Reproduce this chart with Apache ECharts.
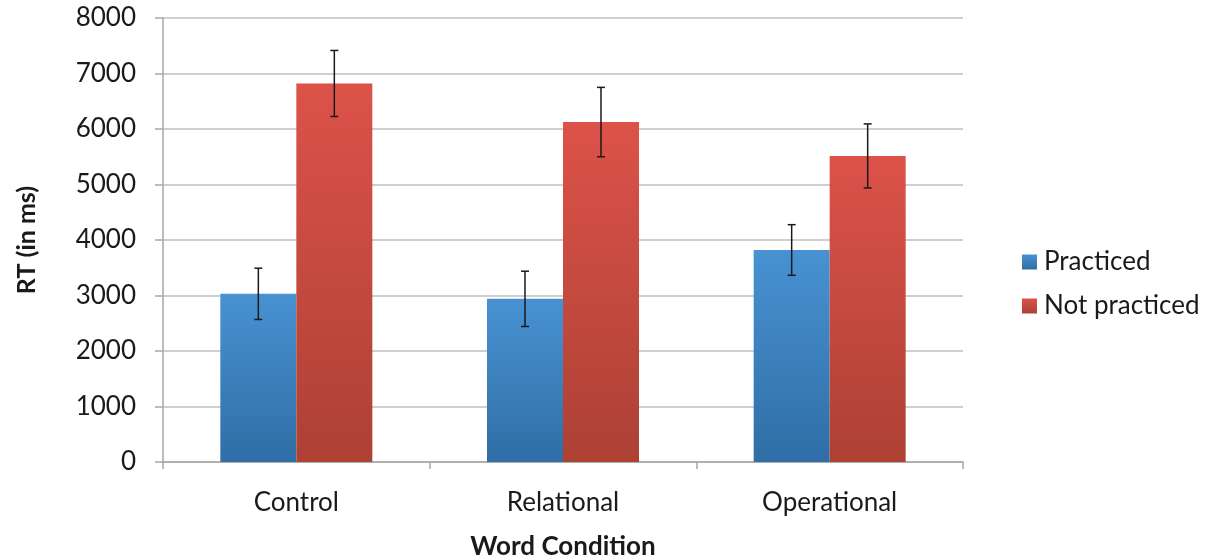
<!DOCTYPE html>
<html>
<head>
<meta charset="utf-8">
<script src="https://cdn.jsdelivr.net/npm/echarts@6/dist/echarts.min.js"></script>
<style>
  html, body { margin: 0; padding: 0; background: #fff; }
  #chart { width: 1210px; height: 558px; }
</style>
</head>
<body>
<div id="chart"></div>
<script>
const categories = ['Control', 'Relational', 'Operational']
const practiced = [3030, 2940, 3820]
const notPracticed = [6820, 6125, 5515]
// half-widths of the error bars
const practicedErr = [462, 498, 456]
const notPracticedErr = [595, 625, 577]

const font = 'Lato, "Open Sans", sans-serif'

const chart = echarts.init(document.getElementById('chart'))

const blueGrad = new echarts.graphic.LinearGradient(0, 0, 0, 1, [
  { offset: 0, color: '#4892d2' },
  { offset: 1, color: '#2f6ea6' }
])
const redGrad = new echarts.graphic.LinearGradient(0, 0, 0, 1, [
  { offset: 0, color: '#dc5249' },
  { offset: 1, color: '#ad4134' }
])

const barGapPct = 0.43

// error bars drawn on top of each bar
function errorSeries(values, errs, side) {
  return {
    type: 'custom',
    z: 10,
    silent: true,
    data: values.map((v, i) => [i, v, errs[i]]),
    renderItem: (params, api) => {
      const idx = api.value(0)
      const mid = api.value(1)
      const e = api.value(2)
      const band = api.size([1, 0])[0]
      const barW = band * (1 - barGapPct) / 2
      const top = api.coord([idx, mid + e])
      const bot = api.coord([idx, mid - e])
      const x = top[0] + side * barW / 2
      const cap = 4
      const style = { stroke: '#1a1a1a', lineWidth: 1.5 }
      return {
        type: 'group',
        children: [
          { type: 'line', shape: { x1: x, y1: top[1], x2: x, y2: bot[1] }, style },
          { type: 'line', shape: { x1: x - cap, y1: top[1], x2: x + cap, y2: top[1] }, style },
          { type: 'line', shape: { x1: x - cap, y1: bot[1], x2: x + cap, y2: bot[1] }, style }
        ]
      }
    }
  }
}

const option = {
  animation: false,
  backgroundColor: '#fff',
  grid: { left: 163, right: 247, top: 18, bottom: 96, containLabel: false, outerBoundsMode: 'none' },
  legend: {
    orient: 'vertical',
    left: 1017,
    top: 244,
    itemWidth: 15,
    itemHeight: 15,
    itemGap: 18,
    icon: 'rect',
    textStyle: { fontFamily: font, fontSize: 26, color: '#1a1a1a', padding: [0, 0, 0, 2] },
    data: ['Practiced', 'Not practiced']
  },
  xAxis: {
    type: 'category',
    data: categories,
    name: 'Word Condition',
    nameLocation: 'middle',
    nameGap: 72,
    nameTextStyle: { fontFamily: font, fontSize: 26, fontWeight: 'bold', color: '#1a1a1a' },
    axisLine: { lineStyle: { color: '#a6a6a6', width: 1.5 } },
    axisTick: { show: true, length: 7, lineStyle: { color: '#a6a6a6', width: 1.5 } },
    axisLabel: { fontFamily: font, fontSize: 26, color: '#1a1a1a', margin: 28 }
  },
  yAxis: {
    type: 'value',
    min: 0,
    max: 8000,
    interval: 1000,
    name: 'RT (in ms)',
    nameLocation: 'middle',
    nameGap: 124,
    nameTextStyle: { fontFamily: font, fontSize: 25, fontWeight: 'bold', color: '#1a1a1a' },
    axisLine: { show: true, lineStyle: { color: '#a6a6a6', width: 1.5 } },
    axisTick: { show: true, length: 8, lineStyle: { color: '#a6a6a6', width: 1.5 } },
    axisLabel: {
      fontFamily: font, fontSize: 26, color: '#1a1a1a', margin: 27,
      formatter: (v) => String(v)
    },
    splitLine: { lineStyle: { color: '#bfbfbf', width: 1.5 } }
  },
  series: [
    {
      name: 'Practiced',
      type: 'bar',
      data: practiced,
      barGap: '0%',
      barCategoryGap: '43%',
      itemStyle: { color: blueGrad }
    },
    {
      name: 'Not practiced',
      type: 'bar',
      data: notPracticed,
      itemStyle: { color: redGrad }
    },
    errorSeries(practiced, practicedErr, -1),
    errorSeries(notPracticed, notPracticedErr, 1)
  ]
}

chart.setOption(option)
</script>
</body>
</html>
